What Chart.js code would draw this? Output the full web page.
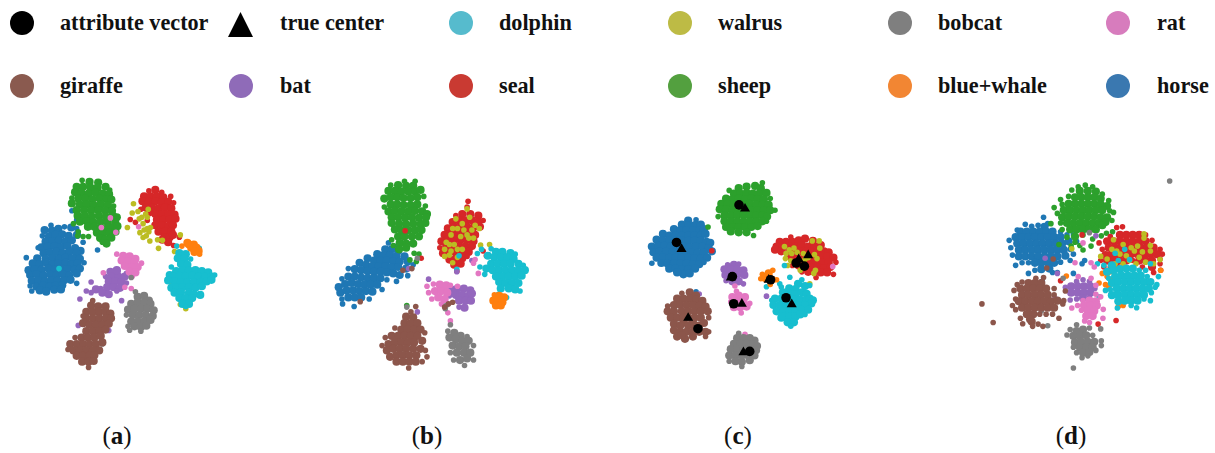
<!DOCTYPE html>
<html>
<head>
<meta charset="utf-8">
<script src="https://cdn.jsdelivr.net/npm/chart.js@4"></script>
<style>
    html, body { margin: 0; padding: 0; background: #fff; }
    #page { position: relative; width: 1215px; height: 453px; overflow: hidden; }
    canvas { position: absolute; }
    .key { position: absolute; width: 24px; height: 24px; border-radius: 50%; }
    .tri { width: 25px; height: 25px; border-radius: 0; background: #000; clip-path: polygon(50% 0, 100% 100%, 0 100%); }
    .label { position: absolute; font: bold 22.2px "Liberation Serif", serif; color: #111; white-space: nowrap; }
    .cap { position: absolute; top: 422px; font: 25px "Liberation Serif", serif; color: #111; transform: translateX(-50%); }
</style>
</head>
<body>
<div id="page"></div>
<script>
// legend
const legendNames = ['attribute vector', 'true center', 'dolphin', 'walrus', 'bobcat', 'rat',
                     'giraffe', 'bat', 'seal', 'sheep', 'blue+whale', 'horse'];
const legendColors = ['#000', '#000', '#56bbcd', '#bdbb45', '#7f7f7f', '#d77cbd',
                      '#8a5a4f', '#8f6bb8', '#c93a32', '#53a03f', '#f28633', '#3a78b0'];
const pointColors = {
    horse: '#1f77b4', whale: '#ff7f0e', sheep: '#2ca02c', seal: '#d62728', bat: '#9467bd',
    giraffe: '#8c564b', rat: '#e377c2', bobcat: '#7f7f7f', walrus: '#bcbd22', dolphin: '#17becf'
};
const captions = ['a', 'b', 'c', 'd'];

const a_horse = [115,175,95,190,118,192,138,186,157,180,178,182,195,185,
    88,208,108,210,128,205,150,203,170,208,196,205,215,228,
    98,226,120,224,140,222,160,226,180,222,75,245,
    85,244,105,242,125,240,146,243,166,240,190,246,207,255,
    92,262,112,260,132,258,152,262,172,258,195,262,
    72,278,98,280,120,277,140,280,160,276,182,278,205,280,38,276,218,292,
    58,294,80,296,100,292,120,296,138,294,160,292,178,296,198,294,
    45,315,65,312,85,314,106,310,126,314,146,310,166,312,188,314,205,310,
    50,330,70,328,92,332,112,328,132,330,152,328,172,332,195,325,
    55,348,75,346,96,350,116,346,136,348,156,346,176,345,195,356,
    50,364,70,366,90,362,110,366,130,364,150,362,
    55,380,80,378,100,382,125,376,146,375,260,252,180,130,195,158];
const a_sheep = [212,35,235,40,262,42,195,55,215,55,238,58,260,58,285,55,298,65,
    190,72,210,74,232,76,254,74,276,76,296,78,
    180,90,200,92,222,92,244,94,266,92,288,94,303,95,
    180,107,205,110,226,110,248,112,270,110,292,112,310,115,
    195,128,218,128,240,130,262,128,284,130,305,130,
    198,145,220,146,242,148,264,146,286,148,308,146,320,150,
    205,164,225,162,247,165,269,164,291,166,315,165,185,170,200,195,
    230,180,250,180,270,182,292,182,310,180,322,178,
    198,208,215,210,232,210,258,198,278,198,298,198,316,195,
    268,215,285,218,303,214,288,232,275,228];
const a_seal = [420,68,440,65,460,72,405,85,425,85,445,85,465,88,488,85,
    400,100,420,102,440,100,460,104,480,102,497,105,
    410,120,430,120,450,122,470,120,490,122,420,135,
    440,140,460,140,480,140,500,142,445,158,465,158,485,158,503,155,
    440,175,460,175,480,178,495,175,450,195,470,195,490,195,
    468,212,485,212,495,205,480,228,462,220,
    362,157,378,166,415,160,395,125,497,238,515,212,530,341];
const a_walrus = [372,108,368,137,386,132,418,125,410,140,398,150,390,155,415,150,402,170,415,185,
    405,190,420,195,392,198,353,182,402,213,423,224,447,220,450,247,462,222,500,257,518,205,
    487,352,488,368,535,435,518,422,412,208,425,182];
const a_dolphin = [515,262,535,265,510,278,530,280,550,280,520,296,540,298,490,305,
    505,318,525,315,545,316,565,315,585,318,605,322,
    485,330,495,335,515,333,535,335,555,333,575,335,595,336,615,335,625,330,
    500,350,520,352,540,352,560,352,580,352,600,350,615,345,
    490,370,505,368,525,368,545,368,565,370,585,365,
    500,385,520,385,545,385,560,390,580,392,
    515,402,535,402,555,402,525,420,545,420,535,428,480,347,577,247,140,310,507,240];
const a_whale = [545,235,560,235,552,245,568,245,575,255,562,258,578,265,540,230,523,240];
const a_rat = [320,265,340,270,360,272,378,280,335,285,355,288,375,290,397,293,
    345,302,365,305,385,305,360,320,378,322,368,335,365,372,345,368,278,323,
    300,152,272,182,317,197,388,180];
const a_bat = [320,318,300,320,285,335,305,335,325,335,345,335,350,325,
    295,350,315,350,335,352,350,355,270,372,290,368,310,368,330,370,
    225,380,240,385,255,375,275,385,295,390,320,380,240,352,205,405,335,410,320,315,200,487,295,503];
const a_bobcat = [385,398,405,395,420,410,378,382,365,420,385,415,405,415,425,420,
    355,438,375,435,395,435,415,435,435,440,350,455,370,455,390,455,410,455,432,458,
    365,475,385,475,405,475,425,470,355,490,375,490,395,492,412,488,395,505,360,502,275,545,365,338];
const a_giraffe = [240,425,262,428,285,428,225,445,245,445,265,445,285,445,300,450,
    225,465,245,465,265,465,285,465,302,465,215,480,235,485,255,485,275,485,295,482,
    225,505,245,505,265,505,285,500,215,458,190,525,210,525,230,525,250,525,270,520,
    175,545,195,545,215,545,235,545,255,545,275,540,168,562,
    185,565,205,565,225,565,245,565,265,565,195,582,215,582,235,582,250,580,
    212,600,232,600,248,598,232,618,245,410];

// panel (b)
const b_horse = [185,230,205,245,175,250,195,250,215,255,150,265,170,268,190,268,210,272,235,272,
    120,278,140,285,160,285,180,285,200,288,220,288,245,288,262,298,
    95,292,115,298,135,302,155,302,175,302,195,305,215,305,240,310,
    60,310,80,312,100,315,120,318,140,320,160,320,180,322,200,325,220,330,245,332,
    40,342,60,335,80,335,100,338,120,340,140,340,160,340,180,345,210,350,
    30,368,50,358,70,355,90,358,110,360,130,360,150,360,165,375,
    35,385,55,378,75,378,95,380,115,380,135,382,
    40,405,60,400,80,400,100,400,125,405,42,420,78,428];
const b_sheep = [235,38,268,38,192,50,215,50,240,52,262,52,185,68,205,68,225,70,247,70,268,70,285,65,
    172,92,192,88,212,88,232,90,254,90,275,88,295,85,
    172,118,192,110,212,110,232,112,254,112,275,110,300,115,
    185,132,205,130,225,132,247,132,268,130,290,132,305,140,
    195,150,215,150,237,152,258,150,280,152,302,150,
    195,168,218,170,240,172,262,170,285,172,300,168,
    205,188,225,190,247,190,268,190,288,190,195,220,215,210,235,210,258,210,280,210,
    200,238,220,230,240,232,262,232,218,250,240,245,265,262,280,265,272,288,252,283,242,425];
const b_seal = [433,100,430,118,395,145,415,140,440,140,465,145,480,160,
    385,165,405,160,425,160,445,160,465,165,370,185,390,180,410,180,430,180,450,182,470,180,
    360,205,380,200,400,200,420,200,440,200,455,205,350,225,370,220,390,220,410,220,430,220,450,225,
    345,245,365,240,385,240,405,240,425,240,445,240,355,262,375,260,395,258,415,258,435,258,
    375,282,395,278,415,278,430,272,390,298,410,295,398,318,237,192,287,278,480,255,490,270];
const b_walrus = [430,124,395,155,415,170,438,150,455,175,385,185,400,185,420,190,445,190,468,185,
    380,205,410,210,435,215,450,215,365,228,375,235,390,235,360,250,380,255,400,250,
    375,268,360,272,385,292,415,250,400,275,500,235,472,237,430,205];
const b_dolphin = [505,248,520,258,540,258,565,262,580,265,495,270,515,275,535,275,555,275,575,280,
    505,295,525,295,545,295,565,295,590,295,605,300,
    470,305,490,310,510,315,530,315,550,315,570,315,590,315,610,315,
    485,328,520,335,540,335,560,335,580,335,600,332,530,352,550,355,570,355,590,355,
    535,372,560,372,580,375,595,380,553,400,528,390,405,270,398,312,475,250,462,263];
const b_whale = [515,392,530,395,545,400,512,410,525,412,540,415,520,425,535,425];
const b_bat = [380,375,400,372,420,372,440,378,375,395,395,392,415,392,435,395,405,410,425,410,442,410,
    405,430,422,432,385,385,445,388,310,343,275,445,398,320,445,285,248,310];
const b_rat = [305,365,325,358,345,360,365,362,310,385,330,380,350,380,368,385,320,405,340,400,360,405,
    350,420,400,365,378,362,455,282,450,293,465,325,370,448,378,473];
const b_bobcat = [378,485,370,505,390,510,410,520,430,522,375,525,395,530,415,535,435,535,
    385,550,405,552,425,552,450,550,378,572,398,572,420,572,440,572,
    388,595,408,595,430,590,450,595,422,612,365,425,362,435,258,558,242,430,275,278];
const b_giraffe = [270,428,255,445,240,460,262,462,235,480,255,480,275,480,
    205,495,225,500,245,500,265,500,285,500,175,525,195,520,215,520,235,520,255,520,275,520,298,510,
    165,550,185,545,205,540,225,540,245,540,265,540,290,535,
    180,565,200,560,220,560,240,560,262,560,285,560,300,565,
    190,585,210,580,230,580,250,580,272,580,305,585,
    210,600,230,600,250,600,270,600,290,600,248,620,230,315,258,310,97,413,372,420,385,415,360,430];

// panel (c)
const c_horse = [150,158,175,155,130,170,150,172,172,172,190,170,105,185,125,188,145,188,165,188,185,188,200,185,
    70,200,90,205,110,205,130,205,150,205,170,205,190,205,205,200,
    50,218,70,220,90,220,110,220,130,220,150,222,170,222,190,222,208,225,220,228,
    35,240,55,238,75,238,95,240,115,240,135,240,155,242,175,240,195,240,215,245,
    40,258,60,256,80,256,100,258,120,258,140,258,160,258,180,260,200,260,225,255,
    50,275,70,274,90,276,110,276,130,276,150,276,170,278,190,278,210,275,
    35,293,65,292,85,294,105,294,125,294,145,294,165,296,185,296,200,290,
    90,310,110,310,130,312,150,312,172,310,135,328,155,325,115,322,175,383];
const c_sheep = [385,38,362,48,380,55,335,50,310,55,280,62,295,72,315,72,335,70,355,72,375,72,398,70,
    270,88,290,90,310,88,330,90,350,88,370,90,390,90,410,88,
    255,105,275,105,295,108,315,105,335,108,345,105,365,108,385,108,405,108,425,125,
    250,122,270,122,290,125,310,125,330,125,350,125,370,125,390,125,410,125,
    245,145,265,142,285,142,305,140,325,140,345,142,365,142,385,142,400,145,
    265,160,285,160,305,160,325,160,345,160,365,160,385,160,398,160,
    270,178,290,178,310,178,330,178,350,178,370,175,285,192,310,195,335,195,357,205,213,178];
const c_seal = [475,210,440,225,460,225,480,225,500,220,520,215,545,222,
    430,240,450,240,470,240,490,240,510,235,530,240,550,240,570,235,
    425,250,445,255,470,255,490,255,510,255,525,255,540,255,560,255,580,255,595,258,
    470,270,490,275,510,280,530,272,550,272,570,272,590,272,610,275,
    480,300,500,300,520,300,535,290,555,290,575,290,595,290,618,290,540,305,560,305,580,308,600,305,
    510,320,530,320,550,320,570,322,590,322,610,328,555,338,225,253];
const c_walrus = [455,240,485,245,460,262,478,262,495,258,515,262,530,275,458,278,475,285,465,300,505,315,
    470,250,553,315,548,325,543,222,565,222,567,245,550,265,558,278,520,280,535,358];
const c_dolphin = [510,345,498,358,470,372,490,375,445,368,450,385,470,390,490,392,510,385,525,390,
    415,410,425,405,445,405,465,408,485,408,505,408,525,408,535,405,545,410,540,420,
    420,425,440,425,460,425,480,428,500,425,520,425,430,445,450,445,470,445,490,445,510,440,530,440,
    445,465,450,462,470,462,490,462,505,455,520,455,465,480,485,480,475,492,472,337,455,300,398,367,520,365,535,363,440,358];
const c_whale = [385,328,405,325,380,342,395,340,415,345,430,345,410,360,418,315];
const c_bat = [275,298,295,298,310,295,265,312,285,312,305,312,325,315,268,330,285,330,305,330,328,330,
    270,348,290,350,310,350,325,358,185,390,398,397];
const c_rat = [303,382,298,365,290,400,310,395,330,400,285,415,305,415,325,415,345,420,
    295,432,315,432,335,430,318,450,330,518,608,303];
const c_bobcat = [310,515,305,530,325,530,345,530,360,538,295,548,315,548,335,548,355,550,368,555,
    285,565,305,565,325,565,345,565,365,568,280,585,300,585,320,585,340,585,360,585,
    280,603,300,603,320,605,345,600,320,620];
const c_giraffe = [130,388,155,385,175,395,115,405,135,405,155,405,175,408,195,412,
    85,428,105,425,125,425,145,425,165,425,185,428,205,430,85,445,105,445,130,445,150,445,170,445,190,445,212,445,
    95,465,115,465,135,465,150,465,170,465,135,480,165,480,190,465,215,465,105,485,125,490,150,490,170,490,185,490,200,482,
    105,505,125,510,145,510,165,510,185,510,205,510,215,510,115,525,140,532,165,525,205,525,130,520];
const c_attribute = [113,227,311,108,290,335,411,345,294,421,460,402,181,500,345,572,492,292,518,302];
const c_center = [129,248,330,120,285,338,405,345,320,421,478,423,150,466,325,575,500,280,530,268];

// panel (d)
const d_horse = [232,150,245,170,175,172,195,178,215,175,235,180,150,190,
    160,195,180,195,200,195,220,195,240,195,260,195,285,195,
    125,222,145,212,165,212,185,212,205,212,225,212,245,212,265,212,285,212,305,205,325,205,
    130,245,150,232,170,232,190,232,210,232,230,232,250,232,270,232,290,232,310,225,335,225,
    135,268,155,252,175,252,195,252,215,252,235,252,255,252,275,252,295,252,315,250,
    155,272,175,272,195,272,215,272,235,272,255,272,275,272,300,270,325,265,
    145,300,165,292,185,292,205,292,225,292,245,292,265,292,285,290,315,285,
    185,325,205,315,225,312,250,310,275,322,260,322,325,325,352,295,360,285,228,350];
const d_sheep = [362,50,340,55,385,55,320,65,345,68,370,68,395,70,415,78,
    285,95,310,85,330,88,350,88,370,88,390,88,410,92,435,98,
    265,120,290,110,310,108,330,108,350,108,370,108,390,108,410,110,430,115,
    275,138,295,128,315,128,335,128,355,128,375,128,395,128,415,128,438,130,450,135,
    290,150,310,148,330,148,350,148,370,148,390,148,410,150,430,150,
    255,170,285,168,305,168,325,168,345,168,365,168,385,168,405,168,425,165,445,160,
    290,188,315,188,335,188,355,188,375,188,395,188,415,175,447,195,
    305,212,330,210,355,205,385,218,412,208,280,235,330,228,345,238,380,240,318,240,355,252,428,200];
const d_seal = [460,182,478,180,440,210,470,205,490,205,510,205,530,205,550,205,
    405,230,430,225,450,225,470,225,490,225,510,225,530,225,550,225,570,222,
    415,250,435,245,455,245,475,245,495,245,515,245,535,245,555,245,575,245,595,250,
    425,268,445,265,465,265,485,265,505,265,525,265,545,265,565,265,585,265,602,265,
    410,285,430,285,450,285,470,285,490,285,510,285,530,285,550,285,570,285,595,280,
    420,305,440,305,460,300,480,305,540,305,570,305,595,295,
    575,322,597,315,560,355,285,348,458,472,402,483,352,205];
const d_walrus = [545,202,450,220,480,235,460,255,470,265,490,270,515,255,540,258,565,255,525,240,445,250,
    430,280,410,272,500,285,530,275,550,290,575,295,595,282,455,295,480,295,520,295,448,305,320,248,545,215,565,238,505,245];
const d_whale = [303,333,415,325,430,335,445,345,425,360,435,365,455,310,597,315,465,428,480,425,405,355,440,320,475,330];
const d_bat = [335,350,355,345,375,350,318,365,338,365,358,365,378,365,392,372,318,385,338,385,358,385,378,385,
    335,405,355,402,375,400,300,368,315,408,395,208,237,278,275,325,268,403];
const d_rat = [380,292,390,305,355,230,330,292,340,335,380,340,395,362,395,390,410,398,
    355,410,375,410,395,412,338,425,358,425,378,425,398,425,320,433,418,437,
    350,440,370,442,390,442,365,458,385,458,417,465,360,473,375,478];
const d_dolphin = [400,295,420,300,445,300,485,250,455,262,465,285,500,282,
    430,320,450,315,470,312,490,310,510,310,530,315,550,315,565,295,
    435,340,455,335,475,332,495,332,515,332,535,332,555,335,590,335,
    425,378,445,355,465,352,485,352,505,352,525,352,545,352,565,352,585,360,
    440,375,460,372,480,372,500,372,520,372,540,372,560,372,580,368,
    445,393,465,392,485,392,505,392,525,392,545,392,568,385,
    465,412,485,410,505,410,525,410,545,405,565,410,462,433,505,425,522,432,405,398];
const d_giraffe = [208,340,232,338,165,352,185,355,205,355,225,355,150,360,
    140,378,160,372,180,372,200,372,220,372,240,372,265,372,
    145,405,165,392,185,392,205,392,225,392,245,392,265,392,300,380,
    135,425,155,412,175,412,195,412,215,412,235,412,255,412,275,410,295,410,
    145,438,165,432,185,432,205,432,225,432,245,432,265,432,292,420,
    160,465,180,452,200,452,220,452,240,452,260,452,280,465,
    167,482,195,475,215,483,230,490,198,490,40,420,75,478,262,280,242,308,190,468];
const d_bobcat = [335,485,315,500,335,505,355,500,375,495,410,498,305,517,325,520,345,520,365,518,385,518,
    330,540,350,538,370,538,390,538,412,535,325,555,345,555,365,555,385,555,412,550,
    335,572,355,572,375,570,395,565,352,588,370,582,325,620,625,37,375,198,225,442,245,488,293,340];

const page = document.getElementById('page');

function addEl(cls, left, top, text) {
    const el = document.createElement('div');
    el.className = cls;
    el.style.left = left + 'px';
    el.style.top = top + 'px';
    if (text) el.textContent = text;
    page.appendChild(el);
    return el;
}

// Legend, two rows of six
const keyX = [10, 229, 449, 668, 888, 1106];
const textX = [60, 280, 499, 718, 938, 1157];
legendNames.forEach((name, i) => {
    const col = i % 6;
    const row = Math.floor(i / 6);
    const top = row === 0 ? 11 : 74;
    if (name === 'true center') {
        addEl('key tri', keyX[col] - 1, top + 1);
    } else {
        addEl('key', keyX[col], top).style.background = legendColors[i];
    }
    addEl('label', textX[col], top - 1, name);
});

const toPoints = (flat) => {
    const pts = [];
    for (let i = 0; i < flat.length; i += 2) pts.push({ x: flat[i], y: flat[i + 1] });
    return pts;
};

// Dots inside a dense clump are drawn fatter so the clump closes up, strays stay small
function radii(pts, need) {
    return pts.map(p => {
        const near = pts.filter(q => Math.hypot(q.x - p.x, q.y - p.y) < 30).length - 1;
        return near >= need ? 4.1 : 2.8;
    });
}

const dots = (key, flat, need = 4) => {
    const pts = toPoints(flat);
    return {
        data: pts,
        backgroundColor: pointColors[key],
        pointRadius: key === 'walrus' ? 2.8 : radii(pts, need),
        borderWidth: 0
    };
};

// Chart.js paints the first dataset last, so the list is flipped: later entries land on top
function drawPanel(left, datasets) {
    const canvas = document.createElement('canvas');
    canvas.width = 220;
    canvas.height = 220;
    canvas.style.left = left + 'px';
    canvas.style.top = '165px';
    page.appendChild(canvas);
    new Chart(canvas, {
        type: 'scatter',
        data: { datasets: datasets.reverse() },
        options: {
            responsive: false,
            animation: false,
            layout: { padding: 0 },
            plugins: { legend: { display: false }, tooltip: { enabled: false } },
            scales: {
                x: { display: false, min: 0, max: 660 },
                y: { display: false, min: 0, max: 660, reverse: true }
            }
        }
    });
}

drawPanel(10, [dots('horse', a_horse), dots('sheep', a_sheep), dots('seal', a_seal), dots('walrus', a_walrus),
    dots('dolphin', a_dolphin), dots('whale', a_whale), dots('bat', a_bat), dots('rat', a_rat),
    dots('bobcat', a_bobcat), dots('giraffe', a_giraffe)]);
drawPanel(325, [dots('horse', b_horse), dots('sheep', b_sheep), dots('seal', b_seal), dots('walrus', b_walrus),
    dots('dolphin', b_dolphin), dots('whale', b_whale), dots('bat', b_bat), dots('rat', b_rat),
    dots('bobcat', b_bobcat), dots('giraffe', b_giraffe)]);
drawPanel(635, [dots('horse', c_horse), dots('sheep', c_sheep), dots('seal', c_seal), dots('walrus', c_walrus),
    dots('dolphin', c_dolphin), dots('whale', c_whale), dots('bat', c_bat), dots('rat', c_rat),
    dots('bobcat', c_bobcat), dots('giraffe', c_giraffe),
    { data: toPoints(c_center), backgroundColor: '#000', pointStyle: 'triangle', pointRadius: 5.8, borderWidth: 0 },
    { data: toPoints(c_attribute), backgroundColor: '#000', pointRadius: 4.8, borderWidth: 0 }]);
drawPanel(965, [dots('horse', d_horse, 5), dots('sheep', d_sheep, 5), dots('seal', d_seal, 5), dots('walrus', d_walrus),
    dots('whale', d_whale, 9), dots('dolphin', d_dolphin, 5), dots('bat', d_bat, 5), dots('rat', d_rat, 5),
    dots('bobcat', d_bobcat, 5), dots('giraffe', d_giraffe, 5)]);

// Captions under the panels, bold letter between plain brackets
const capX = [117, 427, 738, 1071];
captions.forEach((c, i) => {
    const el = addEl('cap', capX[i], 422);
    el.innerHTML = '(<b>' + c + '</b>)';
});
</script>
</body>
</html>
